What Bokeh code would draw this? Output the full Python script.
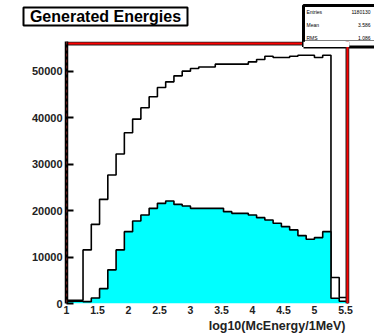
import numpy as np
from bokeh.plotting import figure
from bokeh.layouts import column, row
from bokeh.models import Span, FixedTicker, Range1d, BoxAnnotation, Title
from bokeh.core.properties import value
from bokeh.embed import file_html
from bokeh.resources import INLINE

# Histogram binning (log10 of energy in MeV)
x_lo = 1.0
bin_width = 2.0 / 15.0

# Bin contents: all generated events and the selected subset
all_energies = [700, 700, 11550, 17050, 22430, 27680, 32190, 36770, 39720, 42150,
                44520, 46520, 47740, 49030, 50040, 50600, 50950, 50950, 51550, 51550,
                51550, 51550, 52040, 52540, 53270, 52970, 52970, 53270, 53480, 53480,
                52970, 53480, 5590, 1300]
selected_energies = [500, 500, 400, 1200, 3200, 7250, 11550, 15480, 17780, 19070,
                     20490, 21570, 22080, 21350, 21010, 20490, 20490, 20490, 20490, 19780,
                     19420, 19420, 19070, 18490, 18000, 17270, 16560, 15850, 14620, 13830,
                     14190, 15480, 1140, 500]

x_ticks = [1, 1.5, 2, 2.5, 3, 3.5, 4, 4.5, 5, 5.5]
x_tick_labels = ["1", "1.5", "2", "2.5", "3", "3.5", "4", "4.5", "5", "5.5"]
y_ticks = [0, 10000, 20000, 30000, 40000, 50000]

stats_names = ["Entries", "Mean", "RMS"]
stats_values = ["1180130", "3.586", "1.086"]

title_text = "Generated Energies"
x_title = "log10(McEnergy/1MeV)"

n_bins = len(all_energies)
edges = x_lo + bin_width * np.arange(n_bins + 1)
x_hi = float(edges[-1])
y_hi = 56000

FONT = "Liberation Sans"
W = 374
HDR_H = 41
MAIN_H = 333 - HDR_H

# pixel scales of the main frame (used to leave a small margin around the frame edges)
px_per_x = 61.985
px_per_y = 260.0 / y_hi

# ---------------- header strip: title box and statistics box ----------------
hdr = figure(width=W, height=HDR_H, x_range=Range1d(0, W), y_range=Range1d(HDR_H, 0),
             x_axis_type=None, y_axis_type=None, title=None,
             output_backend="svg", toolbar_location=None,
             min_border=0, min_border_left=0, min_border_right=0,
             min_border_top=0, min_border_bottom=0)
hdr.outline_line_color = None
hdr.background_fill_color = "white"
hdr.border_fill_color = "white"

hdr.quad(left=23, right=187, top=7, bottom=25, fill_color="white",
         line_color="black", line_width=2)
hdr.text(x=[105], y=[16], text=[title_text], text_align="center", text_baseline="middle",
         text_font=value(FONT), text_font_style="bold", text_font_size="16px",
         text_color="black")

hdr.quad(left=303, right=390, top=5, bottom=41.5, fill_color="white",
         line_color="black", line_width=3)
hdr.text(x=[306] * 3, y=[11.7, 24.3, 37.0], text=stats_names, text_align="left",
         text_baseline="middle", text_font=value(FONT), text_font_size="5px",
         text_color="black")
hdr.text(x=[370] * 3, y=[11.7, 24.3, 37.0], text=stats_values, text_align="right",
         text_baseline="middle", text_font=value(FONT), text_font_size="5px",
         text_color="black")

# ---------------- main histogram frame ----------------
p = figure(width=W, height=MAIN_H,
           x_range=Range1d(x_lo, x_hi + 2.0 / px_per_x),
           y_range=Range1d(0, y_hi + 2.0 / px_per_y),
           title=None, output_backend="svg", toolbar_location=None,
           min_border_left=66, min_border_right=25, min_border_top=0, min_border_bottom=30)
p.background_fill_color = "white"
p.border_fill_color = "white"
p.outline_line_color = None
p.xgrid.visible = False
p.ygrid.visible = False


def outline(counts):
    xs = np.repeat(edges, 2)
    ys = np.concatenate([[0], np.repeat(counts, 2), [0]])
    return xs, ys


# all generated energies: outline only
xa, ya = outline(all_energies)
p.line(xa, ya, line_color="black", line_width=1.6)

# selected energies: cyan filled histogram with black outline
xs_, ys_ = outline(selected_energies)
p.patch(xs_, ys_, fill_color="#00ffff", line_color=None)
p.line(xs_, ys_, line_color="black", line_width=1.6)

# y axis
yax = p.yaxis[0]
yax.ticker = FixedTicker(ticks=y_ticks)
yax.axis_line_width = 3.5
yax.axis_line_color = "black"
yax.major_tick_in = 7
yax.major_tick_out = 0
yax.major_tick_line_width = 2
yax.minor_tick_line_color = None
yax.major_label_standoff = 4
yax.major_label_text_font = FONT
yax.major_label_text_font_style = "bold"
yax.major_label_text_font_size = "11px"
yax.major_label_text_color = "#222222"

# x axis
xax = p.xaxis[0]
xax.ticker = FixedTicker(ticks=x_ticks)
xax.major_label_overrides = {t: s for t, s in zip(x_ticks, x_tick_labels)}
xax.axis_line_color = None
xax.major_tick_line_color = None
xax.major_tick_in = 0
xax.major_tick_out = 0
xax.minor_tick_line_color = None
xax.minor_tick_in = 0
xax.minor_tick_out = 0
xax.major_label_standoff = 2
xax.major_label_text_font = FONT
xax.major_label_text_font_style = "bold"
xax.major_label_text_font_size = "10.5px"
xax.major_label_text_color = "#222222"

# axis title, right aligned under the axis
p.add_layout(Title(text=x_title, align="right", offset=4, standoff=0,
                   text_font=FONT, text_font_style="bold", text_font_size="12.5px",
                   text_color="#222222"), "below")

# frame: red top edge (up to the statistics box) and red right edge
stats_left = x_lo + (303 - 66) / px_per_x
p.add_layout(Span(location=x_hi, dimension="height", line_color="#202020", line_width=4))
p.add_layout(Span(location=x_hi, dimension="height", line_color="red", line_width=2))
p.segment(x0=[x_lo], y0=[y_hi], x1=[stats_left], y1=[y_hi], line_color="#202020", line_width=4)
p.segment(x0=[x_lo], y0=[y_hi], x1=[stats_left], y1=[y_hi], line_color="red", line_width=2)
p.add_layout(Span(location=x_lo, dimension="height", line_color="#c03030",
                  line_width=1.2, line_dash="3 3"))

# lower part of the statistics box reaching into the frame
p.add_layout(BoxAnnotation(left=stats_left, bottom=y_hi - 3.5 / px_per_y,
                           fill_color="white", fill_alpha=1.0, line_color=None))
p.segment(x0=[stats_left], y0=[y_hi - 3.5 / px_per_y], x1=[x_hi + 1], y1=[y_hi - 3.5 / px_per_y],
          line_color="black", line_width=3, level="annotation")
p.segment(x0=[stats_left], y0=[y_hi - 3.5 / px_per_y], x1=[stats_left], y1=[y_hi + 1000],
          line_color="black", line_width=3, level="annotation")

# the header sits in its own row so its frame keeps the full page width
layout = column(row(hdr), p, spacing=0)
open("out.html", "w").write(file_html(layout, INLINE))
